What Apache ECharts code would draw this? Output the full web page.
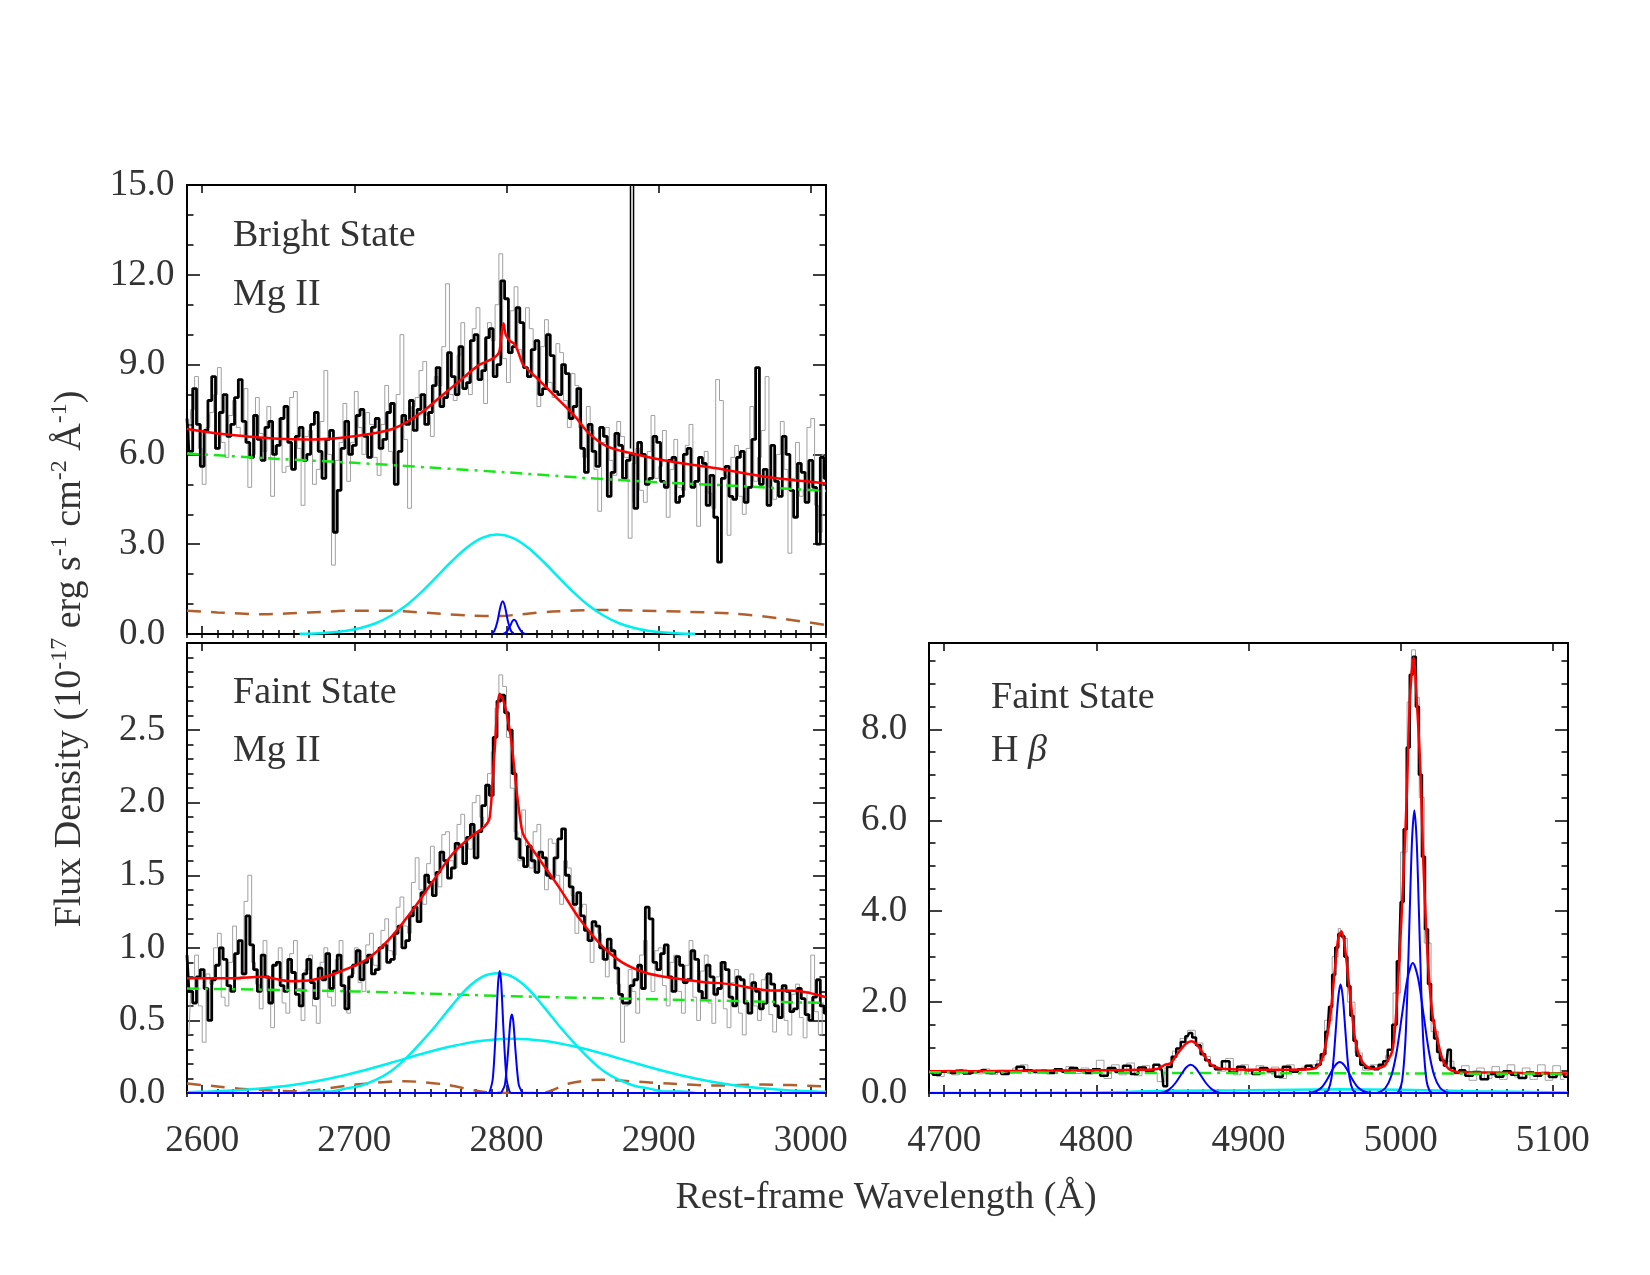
<!DOCTYPE html>
<html>
<head>
<meta charset="utf-8">
<script src="https://cdn.jsdelivr.net/npm/echarts@6/dist/echarts.min.js"></script>
<style>
  html, body { margin: 0; padding: 0; background: #fff; }
  #chart { width: 1650px; height: 1275px; }
</style>
</head>
<body>
<div id="chart"></div>
<script>
// ---- Bright state, Mg II (observed spectra on 2.5 A grids) ----
var brightBlackStart = 2590;
var brightBlack = [
  7.2, 6.1, 8.2, 7.0, 5.6, 6.8, 7.8, 8.6, 6.2, 7.4, 8.0, 6.6, 7.0, 7.9, 8.5, 7.1, 6.4, 5.9, 7.3, 6.5,
  5.8, 6.9, 7.1, 6.0, 6.3, 7.2, 7.6, 6.4, 5.5, 6.6, 6.9, 5.8, 6.0, 7.0, 7.4, 6.1, 5.2, 6.5, 6.8, 3.4,
  4.8, 6.2, 7.1, 6.0, 6.3, 7.3, 7.5, 6.6, 5.9, 6.9, 7.2, 6.2, 6.5, 7.4, 7.7, 5.0, 6.1, 7.3, 7.0, 7.8,
  6.8, 7.5, 8.0, 7.0, 7.4, 8.3, 8.9, 7.6, 7.9, 9.4, 8.6, 8.0, 9.6, 8.2, 8.4, 9.8, 10.0, 8.5, 8.8, 9.9,
  10.2, 8.6, 9.0, 11.8, 11.2, 9.4, 9.6, 10.9, 10.4, 8.9, 8.6, 9.5, 9.8, 8.0, 8.2, 10.0, 9.3, 8.1, 8.0, 9.0,
  8.7, 7.2, 7.6, 8.2, 6.2, 5.4, 7.0, 6.1, 5.6, 6.9, 6.6, 4.6, 5.4, 6.7, 6.3, 5.2, 5.8, 6.0, 4.2, 6.4,
  6.0, 5.0, 5.2, 6.6, 6.4, 5.1, 4.9, 5.8, 5.9, 4.4, 4.6, 6.0, 6.2, 4.9, 5.1, 5.9, 5.7, 4.3, 5.3, 3.9,
  2.4, 5.2, 5.6, 4.6, 4.5, 5.9, 6.1, 4.4, 4.9, 6.5, 8.9, 5.0, 5.5, 4.3, 6.3, 5.1, 4.6, 6.6, 6.0, 4.8,
  3.9, 5.7, 5.4, 4.4, 5.8, 4.9, 3.0, 5.9, 5.2
];
var brightSpike = [[2881.5, 6.2], [2881.5, 30], [2883.5, 30], [2883.5, 4.4]];
var brightGrayStart = 2591.25;
var brightGray = [
  6.3, 7.5, 8.6, 6.2, 5.0, 6.9, 7.4, 8.0, 8.9, 6.4, 5.9, 7.3, 7.8, 6.9, 6.6, 8.2, 4.9, 6.0, 7.9, 6.7,
  6.1, 7.6, 4.6, 6.3, 7.2, 5.4, 5.6, 7.9, 8.1, 6.2, 4.3, 6.6, 6.8, 5.0, 5.5, 7.1, 8.8, 6.0, 2.3, 5.8,
  6.4, 7.7, 5.1, 6.4, 8.1, 6.9, 6.0, 7.4, 7.0, 5.9, 5.3, 7.0, 8.3, 6.1, 5.7, 8.0, 10.0, 6.5, 4.2, 7.6,
  7.9, 8.8, 9.1, 7.3, 6.6, 8.6, 8.3, 9.6, 11.7, 8.0, 7.8, 9.3, 10.4, 8.6, 8.0, 10.2, 10.9, 9.0, 7.7, 10.4,
  9.8, 11.0, 12.7, 9.2, 8.4, 10.8, 11.6, 9.5, 9.0, 10.9, 10.2, 8.6, 7.6, 9.6, 10.5, 8.4, 7.9, 9.7, 9.4, 7.8,
  6.9, 8.7, 8.3, 6.9, 5.9, 7.6, 6.8, 5.5, 4.1, 6.4, 6.9, 5.8, 5.3, 7.1, 6.6, 5.9, 3.2, 5.7, 6.2, 4.8,
  4.4, 6.1, 7.3, 5.2, 5.6, 6.8, 3.9, 5.5, 6.5, 4.9, 4.8, 6.3, 7.0, 5.0, 3.6, 5.6, 6.1, 4.7, 4.2, 8.5,
  7.8, 5.3, 3.3, 5.9, 6.3, 4.6, 4.0, 6.2, 7.6, 5.1, 5.9, 6.8, 8.6, 4.9, 4.5, 6.0, 7.1, 5.5, 2.7, 5.2,
  6.4, 4.6, 4.8, 6.9, 7.2, 4.3, 3.4, 6.0
];
// fit components
var brightTotal = [[2590,6.85],[2610,6.7],[2630,6.6],[2650,6.52],[2670,6.5],[2690,6.55],[2710,6.68],[2725,6.85],
  [2735,7.1],[2745,7.43],[2757,7.94],[2770,8.49],[2782,8.99],[2791,9.2],[2795,9.4],[2796.5,9.9],[2798,10.38],
  [2799.5,10.0],[2802,9.8],[2805,9.7],[2807.5,9.45],[2811,9.0],[2820,8.55],[2832,7.94],[2845,7.27],[2854,6.71],
  [2866,6.27],[2882,6.04],[2907,5.77],[2938,5.54],[2969,5.26],[3010,5.03]];
var brightCont = [[2590,6.03],[2650,5.85],[2700,5.72],[2750,5.56],[2800,5.40],[2850,5.22],[2900,5.07],[2950,4.95],[3010,4.78]];
var brightFe = [[2590,0.78],[2610,0.72],[2640,0.66],[2670,0.72],[2700,0.78],[2720,0.78],[2750,0.70],[2775,0.62],[2795,0.60],
  [2810,0.66],[2830,0.75],[2860,0.80],[2890,0.78],[2920,0.74],[2950,0.68],[2980,0.52],[3010,0.30]];
var brightBroad = [[2664,0.01],[2674,0.02],[2684,0.05],[2694,0.10],[2704,0.20],[2714,0.36],[2724,0.61],[2734,0.95],
  [2744,1.40],[2754,1.91],[2764,2.43],[2774,2.89],[2784,3.21],[2794,3.32],[2804,3.21],[2814,2.89],[2824,2.43],[2834,1.91],
  [2844,1.40],[2854,0.95],[2864,0.61],[2874,0.36],[2884,0.20],[2894,0.10],[2904,0.05],[2914,0.02],[2924,0.01]];
var brightNarrow1 = [[2790,0],[2792,0.10],[2794,0.41],[2796,0.91],[2797.5,1.09],[2799,0.91],[2801,0.41],[2803,0.10],[2805,0]];
var brightNarrow2 = [[2798,0],[2800,0.07],[2802,0.23],[2804,0.44],[2805,0.48],[2806,0.44],[2808,0.23],[2810,0.07],[2812,0]];

// ---- Faint state, Mg II ----
var faintBlackStart = 2590;
var faintBlack = [
  0.95, 0.70, 0.62, 0.80, 0.85, 0.72, 0.50, 0.78, 0.88, 1.00, 0.92, 0.74, 0.70, 0.96, 1.05, 0.82, 1.22, 1.02, 0.85, 0.70,
  0.95, 0.80, 0.62, 0.88, 0.90, 0.74, 0.70, 0.92, 0.83, 0.68, 0.60, 0.82, 0.92, 0.76, 0.65, 0.86, 0.78, 0.96, 0.72, 0.84,
  0.95, 0.74, 0.58, 0.80, 0.88, 0.98, 0.78, 0.90, 0.95, 0.82, 0.85, 1.00, 1.02, 0.90, 0.92, 1.10, 1.15, 1.00, 1.05, 1.22,
  1.28, 1.18, 1.38, 1.50, 1.45, 1.36, 1.52, 1.66, 1.60, 1.48, 1.55, 1.72, 1.70, 1.58, 1.76, 1.85, 1.62, 1.80, 1.98, 2.12,
  2.05, 2.45, 2.70, 2.74, 2.62, 2.50, 2.20, 1.75, 1.62, 1.56, 1.70, 1.60, 1.52, 1.66, 1.62, 1.50, 1.48, 1.62, 1.75, 1.82,
  1.50, 1.42, 1.30, 1.38, 1.22, 1.12, 1.05, 1.18, 1.15, 1.00, 0.92, 1.06, 0.98, 0.86, 0.68, 0.62, 0.62, 0.74, 0.78, 0.88,
  0.72, 1.28, 1.20, 0.90, 0.85, 0.96, 1.02, 0.80, 0.70, 0.94, 0.88, 0.76, 0.78, 0.98, 0.92, 0.70, 0.65, 0.88, 0.80, 0.68,
  0.72, 0.90, 0.85, 0.66, 0.60, 0.80, 0.78, 0.62, 0.55, 0.76, 0.70, 0.58, 0.62, 0.82, 0.75, 0.60, 0.52, 0.74, 0.70, 0.56,
  0.58, 0.72, 0.65, 0.54, 0.50, 0.66, 0.78, 0.60, 0.55
];
var faintGrayStart = 2591.25;
var faintGray = [
  0.40, 0.72, 0.95, 0.60, 0.35, 0.82, 0.75, 1.00, 1.10, 0.66, 0.60, 0.90, 1.15, 0.78, 0.80, 1.32, 1.50, 0.90, 0.75, 0.58,
  1.05, 0.70, 0.45, 0.88, 1.00, 0.62, 0.55, 0.96, 1.05, 0.72, 0.50, 0.85, 0.95, 0.60, 0.48, 0.90, 1.00, 0.66, 0.60, 0.92,
  1.05, 0.70, 0.55, 0.82, 1.00, 0.76, 0.70, 1.02, 1.10, 0.88, 0.85, 1.12, 1.20, 0.98, 0.95, 1.28, 1.35, 1.15, 1.10, 1.45,
  1.62, 1.40, 1.30, 1.58, 1.70, 1.50, 1.42, 1.78, 1.80, 1.60, 1.55, 1.85, 1.92, 1.72, 1.68, 2.00, 2.05, 1.90, 1.85, 2.20,
  2.35, 2.65, 2.88, 2.80, 2.45, 2.10, 1.80, 1.60, 1.95, 1.70, 1.55, 1.80, 1.85, 1.62, 1.40, 1.75, 1.72, 1.50, 1.30, 1.60,
  1.55, 1.36, 1.10, 1.28, 1.30, 1.05, 0.90, 1.15, 1.10, 0.92, 0.80, 1.00, 0.95, 0.75, 0.35, 0.60, 0.85, 0.70, 0.55, 0.95,
  1.05, 0.82, 0.70, 0.98, 1.00, 0.74, 0.60, 0.90, 0.95, 0.70, 0.55, 0.88, 1.05, 0.66, 0.50, 0.84, 0.95, 0.62, 0.48, 0.80,
  0.90, 0.58, 0.45, 0.76, 0.85, 0.55, 0.40, 0.72, 0.82, 0.60, 0.50, 0.78, 0.80, 0.54, 0.42, 0.70, 0.72, 0.50, 0.40, 0.68,
  0.75, 0.52, 0.38, 0.70, 0.95, 0.56, 0.40, 0.62
];
var faintTotal = [[2590,0.79],[2620,0.79],[2639,0.80],[2658,0.77],[2673,0.78],[2689,0.83],[2708,0.92],[2723,1.06],
  [2739,1.27],[2751,1.45],[2764,1.64],[2776,1.76],[2786,1.84],[2789,1.90],[2792,2.33],[2795.5,2.75],[2798,2.70],
  [2800,2.62],[2803,2.44],[2805,2.25],[2807,2.05],[2810,1.82],[2812,1.76],[2823,1.59],[2835,1.41],[2848,1.20],
  [2863,1.01],[2876,0.90],[2891,0.83],[2907,0.795],[2929,0.765],[2947,0.75],[2969,0.71],[2994,0.70],[3010,0.66]];
var faintCont = [[2590,0.72],[2700,0.70],[2800,0.668],[2900,0.645],[3010,0.62]];
var faintFe = [[2590,0.065],[2610,0.045],[2627,0.028],[2664,0.012],[2701,0.058],[2733,0.081],[2760,0.058],[2782,0.012],
  [2800,0.0],[2823,0.0],[2841,0.065],[2860,0.092],[2890,0.075],[2907,0.065],[2938,0.051],[2969,0.058],[3010,0.046]];
var faintBroad1 = [[2664,0.0],[2674,0.01],[2684,0.01],[2694,0.03],[2704,0.05],[2714,0.09],[2724,0.15],[2734,0.24],
  [2744,0.35],[2754,0.47],[2764,0.60],[2774,0.72],[2784,0.80],[2794,0.825],[2804,0.80],[2814,0.72],[2824,0.60],[2834,0.47],
  [2844,0.35],[2854,0.24],[2864,0.15],[2874,0.09],[2884,0.05],[2894,0.03],[2904,0.01],[2914,0.01],[2924,0.0]];
var faintBroad2 = [[2590,0.006],[2604,0.010],[2624,0.019],[2644,0.036],[2664,0.062],[2684,0.100],[2704,0.150],[2724,0.208],
  [2744,0.269],[2764,0.322],[2784,0.360],[2804,0.373],[2824,0.360],[2844,0.322],[2864,0.269],[2884,0.208],[2904,0.150],
  [2924,0.100],[2944,0.062],[2964,0.036],[2984,0.019],[3004,0.010],[3010,0.008]];
var faintNarrow1 = [[2590,0],[2788,0],[2789,0.01],[2791,0.10],[2793,0.44],[2794.5,0.76],[2795.5,0.84],[2796.5,0.76],[2798,0.44],[2800,0.10],[2802,0.01],[2803,0],[3010,0]];
var faintNarrow2 = [[2590,0],[2796,0],[2797,0.01],[2799,0.06],[2801,0.28],[2802.5,0.49],[2803.5,0.54],[2804.5,0.49],[2806,0.28],[2808,0.06],[2810,0.01],[2811,0],[3010,0]];

// ---- Faint state, H beta ----
var hbBlack = [[4690,0.45],[4695,0.40],[4700,0.47],[4705,0.44],[4710,0.49],[4715,0.43],[4720,0.47],[4725,0.50],[4730,0.44],
  [4735,0.48],[4740,0.42],[4745,0.47],[4750,0.58],[4755,0.50],[4760,0.46],[4765,0.49],[4770,0.44],[4775,0.52],[4780,0.47],
  [4785,0.55],[4790,0.50],[4795,0.44],[4800,0.52],[4805,0.38],[4810,0.55],[4815,0.46],[4820,0.60],[4825,0.42],[4830,0.56],
  [4835,0.48],[4840,0.62],[4843,0.52],[4845,0.15],[4848,0.58],[4851,0.80],[4854,0.98],[4857,1.12],[4860,1.25],[4862,1.32],
  [4864,1.22],[4867,1.05],[4870,0.85],[4873,0.72],[4876,0.60],[4880,0.52],[4885,0.70],[4890,0.45],[4895,0.58],[4900,0.50],
  [4905,0.42],[4910,0.55],[4915,0.48],[4920,0.36],[4925,0.58],[4930,0.47],[4935,0.52],[4940,0.60],[4943,0.55],[4946,0.62],
  [4949,0.85],[4952,1.35],[4954,1.90],[4956,2.60],[4958,3.20],[4960,3.50],[4962,3.45],[4964,3.00],[4966,2.35],[4968,1.70],
  [4970,1.15],[4972,0.82],[4975,0.62],[4978,0.55],[4981,0.58],[4984,0.52],[4987,0.62],[4990,0.70],[4993,0.95],[4996,1.50],
  [4999,2.90],[5001,4.20],[5003,5.80],[5005,7.60],[5007,9.20],[5009,9.60],[5011,8.50],[5013,7.00],[5015,5.20],[5017,3.60],
  [5019,2.40],[5021,1.60],[5023,1.20],[5025,0.90],[5027,0.72],[5030,0.60],[5032,0.95],[5034,0.55],[5037,0.45],[5040,0.50],
  [5045,0.38],[5050,0.46],[5055,0.30],[5060,0.42],[5065,0.36],[5070,0.48],[5075,0.40],[5080,0.33],[5085,0.45],[5090,0.38],
  [5095,0.44],[5100,0.35],[5105,0.42],[5110,0.36]];
var hbGray = [[4692.5,0.48],[4697.5,0.36],[4702.5,0.50],[4707.5,0.40],[4712.5,0.52],[4717.5,0.44],[4722.5,0.42],[4727.5,0.53],
  [4732.5,0.41],[4737.5,0.50],[4742.5,0.45],[4747.5,0.55],[4752.5,0.62],[4757.5,0.44],[4762.5,0.51],[4767.5,0.45],[4772.5,0.50],
  [4777.5,0.46],[4782.5,0.58],[4787.5,0.43],[4792.5,0.55],[4797.5,0.47],[4802.5,0.72],[4807.5,0.32],[4812.5,0.62],[4817.5,0.40],
  [4822.5,0.66],[4827.5,0.38],[4832.5,0.60],[4837.5,0.45],[4842.5,0.25],[4847.5,0.55],[4852.5,0.92],[4857.5,1.20],[4862.5,1.38],
  [4867.5,1.10],[4872.5,0.80],[4877.5,0.58],[4882.5,0.48],[4887.5,0.76],[4892.5,0.40],[4897.5,0.62],[4902.5,0.42],[4907.5,0.60],
  [4912.5,0.44],[4917.5,0.57],[4922.5,0.32],[4927.5,0.62],[4932.5,0.45],[4937.5,0.57],[4942.5,0.62],[4947.5,0.72],[4952.5,1.60],
  [4957.5,3.00],[4960.5,3.62],[4962.5,3.40],[4967.5,2.00],[4972.5,0.88],[4977.5,0.50],[4982.5,0.62],[4987.5,0.58],[4992.5,0.82],
  [4997.5,2.20],[5002.5,5.30],[5006,8.60],[5008.5,9.75],[5011,8.70],[5013.5,6.50],[5017.5,3.30],[5022.5,1.35],[5027.5,0.75],
  [5032.5,0.70],[5037.5,0.42],[5042.5,0.60],[5047.5,0.28],[5052.5,0.55],[5057.5,0.32],[5062.5,0.58],[5067.5,0.30],[5072.5,0.62],
  [5077.5,0.35],[5082.5,0.55],[5087.5,0.30],[5092.5,0.62],[5097.5,0.28],[5102.5,0.60],[5107.5,0.30]];
var hbTotal = [[4690,0.48],[4720,0.48],[4760,0.49],[4800,0.50],[4830,0.51],[4840,0.53],[4845,0.62],[4849,0.66],[4853,0.85],
  [4857,1.02],[4860,1.11],[4862.5,1.14],[4865,1.10],[4868,0.98],[4871,0.82],[4874.5,0.66],[4878,0.57],[4885,0.53],[4920,0.51],
  [4940,0.52],[4944,0.55],[4947,0.65],[4949,0.81],[4952,1.30],[4954,1.76],[4957,2.80],[4959,3.40],[4961,3.56],[4963,3.30],
  [4966,2.40],[4968,1.76],[4970,1.20],[4973,0.80],[4977,0.60],[4982,0.53],[4987,0.56],[4990,0.62],[4995,1.00],[4999,2.86],
  [5002,4.90],[5004,6.50],[5006,8.60],[5008.5,9.58],[5011,8.40],[5013,7.10],[5015,5.00],[5018,2.86],[5021,1.70],[5024,1.20],
  [5028,0.70],[5033,0.50],[5040,0.46],[5060,0.45],[5080,0.44],[5110,0.43]];
var hbCont = [[4690,0.455],[4800,0.445],[4900,0.437],[5000,0.430],[5110,0.42]];
var hbBroad = [[4690,0.0],[4800,0.01],[4850,0.05],[4900,0.06],[4960,0.08],[5000,0.07],[5050,0.04],[5110,0.01]];
var hbNarrowHb = [[4690,0],[4842,0],[4844,0.01],[4848,0.08],[4852,0.22],[4856,0.42],[4859,0.56],[4862,0.62],[4865,0.56],[4868,0.42],
  [4872,0.22],[4876,0.08],[4880,0.01],[4882,0],[5110,0]];
var oiii4959n = [[4690,0],[4949,0],[4950.5,0.01],[4952.5,0.07],[4954.5,0.32],[4956,0.78],[4957.5,1.45],[4959,2.10],[4960.5,2.39],
  [4962,2.10],[4963.5,1.45],[4965,0.78],[4966.5,0.32],[4968.5,0.07],[4970.5,0.01],[4972,0],[5110,0]];
var oiii4959b = [[4690,0],[4938,0],[4941,0.01],[4945,0.05],[4948,0.12],[4951,0.26],[4954,0.44],[4957,0.61],[4960,0.68],[4963,0.61],
  [4966,0.44],[4969,0.26],[4972,0.12],[4975,0.05],[4979,0.01],[4982,0],[5110,0]];
var oiii5007n = [[4690,0],[4997,0],[4999,0.05],[5001,0.27],[5003,1.07],[5004.5,2.31],[5006,4.01],[5007.5,5.57],[5009,6.22],
  [5010.5,5.57],[5012,4.01],[5013.5,2.31],[5015,1.07],[5017,0.27],[5019,0.05],[5021,0],[5110,0]];
var oiii5007b = [[4690,0],[4983,0],[4986,0.02],[4990,0.11],[4994,0.39],[4997.5,0.93],[5001,1.74],[5004.5,2.52],[5008,2.86],
  [5011.5,2.52],[5015,1.74],[5018.5,0.93],[5022,0.39],[5026,0.11],[5030,0.02],[5033,0],[5110,0]];

var FONT = 'Liberation Serif';
var TXT = '#333';

function onGrid(start, step, vals) {
  var out = [];
  for (var i = 0; i < vals.length; i++) out.push([start + i * step, vals[i]]);
  return out;
}

var grids = [], xAxes = [], yAxes = [], series = [];
function addGrid(g) { grids.push(g); return grids.length - 1; }
function addX(a) { xAxes.push(a); return xAxes.length - 1; }
function addY(a) { yAxes.push(a); return yAxes.length - 1; }

function tickAxis(gi, min, max, interval, pos, len, label) {
  return {
    type: 'value', gridIndex: gi, min: min, max: max, interval: interval, position: pos,
    axisLine: { show: false }, splitLine: { show: false },
    axisTick: { show: true, inside: true, length: len, lineStyle: { color: '#000', width: 1.5 } },
    axisLabel: label || { show: false }
  };
}
function hiddenAxis(gi) { return { type: 'value', gridIndex: gi, min: 0, max: 1, show: false }; }

var xLabel = { show: true, margin: 30, fontSize: 37, fontFamily: FONT, color: TXT,
  formatter: function (v) { return String(v); } };
function yLabel(top) {
  return { show: true, margin: 45, align: 'center', fontSize: 37, fontFamily: FONT, color: TXT,
    padding: [7, 0, 0, 0],
    formatter: function (v) { return v > top + 1e-6 ? '' : v.toFixed(1); } };
}

function buildPanel(p) {
  var g = addGrid({ left: p.left, top: p.top, width: p.width, height: p.height, show: true,
    borderColor: '#000', borderWidth: 2, backgroundColor: 'transparent' });
  var xi = addX(tickAxis(g, p.xMin, p.xMax, 10, 'bottom', 4));
  addX(tickAxis(g, p.xMin, p.xMax, 10, 'top', 4));
  var yi = addY(tickAxis(g, 0, p.yMax, p.yMinor, 'left', 6.5));
  addY(tickAxis(g, 0, p.yMax, p.yMinor, 'right', 6.5));
  // major wavelength ticks on a grid spanning the round hundreds
  var px = p.width / (p.xMax - p.xMin);
  var x0 = Math.ceil(p.xMin / 100) * 100, x1 = Math.floor(p.xMax / 100) * 100;
  var gx = addGrid({ left: p.left + (x0 - p.xMin) * px, top: p.top, width: (x1 - x0) * px, height: p.height });
  addX(tickAxis(gx, x0, x1, 100, 'bottom', 8, p.xLabels ? xLabel : null));
  addX(tickAxis(gx, x0, x1, 100, 'top', 8));
  addY(hiddenAxis(gx));
  // major flux ticks up to the last labelled value
  var py = p.height / p.yMax;
  var gy = addGrid({ left: p.left, top: p.top + p.height - p.yTop * py, width: p.width, height: p.yTop * py });
  addX(hiddenAxis(gy));
  addY(tickAxis(gy, 0, p.yTop, p.yMajor, 'left', 13, yLabel(p.yTop)));
  addY(tickAxis(gy, 0, p.yTop, p.yMajor, 'right', 13));
  return { x: xi, y: yi };
}

function line(ax, data, color, width, extra) {
  var s = { type: 'line', xAxisIndex: ax.x, yAxisIndex: ax.y, data: data, symbol: 'none', silent: true,
    animation: false, lineStyle: { color: color, width: width } };
  for (var k in extra) s[k] = extra[k];
  return s;
}
var STEP = { step: 'middle' };
var SMOOTH = { smooth: 0.3 };
var RED = '#ff0000', GREEN = '#19e619', BROWN = '#b0602e', CYAN = '#00f0f0', BLUE = '#0000ff', GRAY = '#a0a0a0';

function dashed(color, w, dash) {
  return { smooth: 0.3, lineStyle: { color: color, width: w, type: dash } };
}

var pTop = buildPanel({ left: 187, top: 185, width: 639, height: 449, xMin: 2590, xMax: 3010,
  yMax: 15, yTop: 15, yMajor: 3, yMinor: 1, xLabels: false });
var pMg = buildPanel({ left: 187, top: 643, width: 639, height: 450, xMin: 2590, xMax: 3010,
  yMax: 3.1, yTop: 2.5, yMajor: 0.5, yMinor: 0.1, xLabels: true });
var pHb = buildPanel({ left: 929, top: 643, width: 639, height: 450, xMin: 4690, xMax: 5110,
  yMax: 9.9, yTop: 8, yMajor: 2, yMinor: 0.5, xLabels: true });

var DASHDOT = [12, 6, 3, 6];
var DASH = [14, 10];

// bright Mg II
series.push(line(pTop, onGrid(brightGrayStart, 2.5, brightGray), GRAY, 1, STEP));
series.push(line(pTop, onGrid(brightBlackStart, 2.5, brightBlack), '#000', 2.8, STEP));
series.push(line(pTop, brightSpike, '#000', 1.5, {}));
series.push(line(pTop, brightTotal, RED, 2.5, SMOOTH));
series.push(line(pTop, brightCont, GREEN, 2.5, dashed(GREEN, 2.5, DASHDOT)));
series.push(line(pTop, brightFe, BROWN, 2.5, dashed(BROWN, 2.5, DASH)));
series.push(line(pTop, brightBroad, CYAN, 2.5, SMOOTH));
series.push(line(pTop, brightNarrow1, BLUE, 2, SMOOTH));
series.push(line(pTop, brightNarrow2, BLUE, 2, SMOOTH));

// faint Mg II
series.push(line(pMg, onGrid(faintGrayStart, 2.5, faintGray), GRAY, 1, STEP));
series.push(line(pMg, onGrid(faintBlackStart, 2.5, faintBlack), '#000', 2.8, STEP));
series.push(line(pMg, faintTotal, RED, 2.5, SMOOTH));
series.push(line(pMg, faintCont, GREEN, 2.5, dashed(GREEN, 2.5, DASHDOT)));
series.push(line(pMg, faintFe, BROWN, 2.5, dashed(BROWN, 2.5, DASH)));
series.push(line(pMg, faintBroad1, CYAN, 2.5, SMOOTH));
series.push(line(pMg, faintBroad2, CYAN, 2.5, SMOOTH));
series.push(line(pMg, faintNarrow1, BLUE, 2, SMOOTH));
series.push(line(pMg, faintNarrow2, BLUE, 2, SMOOTH));

// faint H beta
series.push(line(pHb, hbGray, GRAY, 1, STEP));
series.push(line(pHb, hbBlack, '#000', 2.5, STEP));
series.push(line(pHb, hbTotal, RED, 2.5, SMOOTH));
series.push(line(pHb, hbCont, GREEN, 2.5, dashed(GREEN, 2.5, DASHDOT)));
series.push(line(pHb, hbBroad, CYAN, 2.5, SMOOTH));
series.push(line(pHb, hbNarrowHb, BLUE, 2, SMOOTH));
series.push(line(pHb, oiii4959b, BLUE, 2, SMOOTH));
series.push(line(pHb, oiii4959n, BLUE, 2, SMOOTH));
series.push(line(pHb, oiii5007b, BLUE, 2, SMOOTH));
series.push(line(pHb, oiii5007n, BLUE, 2, SMOOTH));

function label(x, y, text, rich) {
  return { type: 'text', x: x, y: y, z: 100, silent: true,
    style: { text: text, fontSize: 38, fontFamily: FONT, fill: TXT, align: 'left', verticalAlign: 'middle', rich: rich || {} } };
}
var supStyle = { fontSize: 24, fontFamily: FONT, fill: TXT, verticalAlign: 'top', lineHeight: 24 };
var mainStyle = { fontSize: 38, fontFamily: FONT, fill: TXT, lineHeight: 44 };

var graphics = [
  label(233, 236, 'Bright State'),
  label(233, 295, 'Mg II'),
  label(233, 693, 'Faint State'),
  label(233, 751, 'Mg II'),
  label(991, 698, 'Faint State'),
  label(991, 751, '{m|H }{b|β}', { m: mainStyle, b: { fontSize: 38, fontFamily: FONT, fill: TXT, fontStyle: 'italic', lineHeight: 44 } }),
  { type: 'text', x: 886, y: 1198, z: 100, silent: true,
    style: { text: 'Rest-frame Wavelength (Å)', fontSize: 38, fontFamily: FONT, fill: TXT, align: 'center', verticalAlign: 'middle' } },
  { type: 'text', x: 70, y: 659, rotation: Math.PI / 2, z: 100, silent: true,
    style: { text: '{m|Flux Density (10}{s|-17}{m| erg s}{s|-1}{m| cm}{s|-2}{m| Å}{s|-1}{m|)}',
      align: 'center', verticalAlign: 'middle', rich: { m: mainStyle, s: supStyle } } }
];

var chart = echarts.init(document.getElementById('chart'), null, { renderer: 'canvas' });
chart.setOption({
  backgroundColor: '#fff',
  animation: false,
  grid: grids,
  xAxis: xAxes,
  yAxis: yAxes,
  series: series,
  graphic: graphics
});
</script>
</body>
</html>
